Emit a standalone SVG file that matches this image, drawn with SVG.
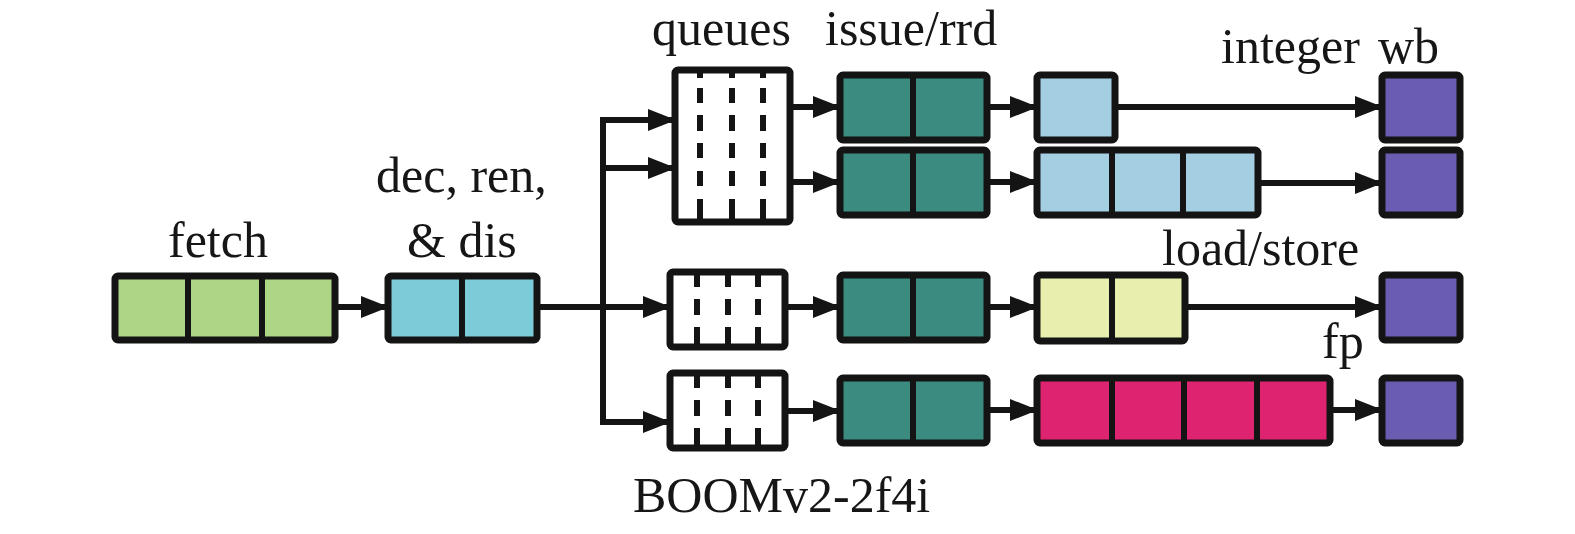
<svg xmlns="http://www.w3.org/2000/svg" width="1575" height="534" viewBox="0 0 1575 534">
<style>
.box{stroke:#141414;stroke-width:7;stroke-linejoin:round}
.div{stroke:#141414;stroke-width:6}
.q{fill:#ffffff;stroke:#141414;stroke-width:7;stroke-linejoin:round}
.dash{stroke:#141414;stroke-width:6;fill:none}
.c{stroke:#141414;stroke-width:6;fill:none}
.lbl{font-family:"Liberation Serif","Times New Roman",serif;font-size:50px;fill:#161616}
.green{fill:#acd686}.cyan{fill:#7ccbd8}.teal{fill:#3b8b80}.lblue{fill:#a4cfe2}.yel{fill:#e8eead}.mag{fill:#de2470}.pur{fill:#6a5cb0}
</style>
<defs>
<marker id="ah" viewBox="0 0 28 22" refX="27" refY="11" markerWidth="28" markerHeight="22" markerUnits="userSpaceOnUse" orient="auto">
<path d="M0,0 L28,11 L0,22 Z" fill="#141414"/>
</marker>
</defs>

<g id="labels">
<text class="lbl" x="168" y="257">fetch</text>
<text class="lbl" x="376" y="192" font-size="48">dec, ren,</text>
<text class="lbl" x="407" y="257">&amp; dis</text>
<text class="lbl" x="652" y="45">queues</text>
<text class="lbl" x="825" y="45">issue/rrd</text>
<text class="lbl" x="1221" y="63">integer</text>
<text class="lbl" x="1378" y="63">wb</text>
<text class="lbl" x="1162" y="265">load/store</text>
<text class="lbl" x="1322" y="358">fp</text>
<text class="lbl" x="633" y="512">BOOMv2-2f4i</text>
</g>

<g id="connectors">
<line class="c" x1="337" y1="307" x2="388" y2="307" marker-end="url(#ah)"/>
<line class="c" x1="537" y1="307" x2="670" y2="307" marker-end="url(#ah)"/>
<path class="c" d="M675,120 H603 V422 H670" stroke-linejoin="miter"/>
<line class="c" x1="603" y1="120" x2="675" y2="120" marker-end="url(#ah)"/>
<line class="c" x1="603" y1="168" x2="675" y2="168" marker-end="url(#ah)"/>
<line class="c" x1="603" y1="422" x2="670" y2="422" marker-end="url(#ah)"/>
<line class="c" x1="790" y1="107" x2="840" y2="107" marker-end="url(#ah)"/>
<line class="c" x1="790" y1="182" x2="840" y2="182" marker-end="url(#ah)"/>
<line class="c" x1="785" y1="307" x2="840" y2="307" marker-end="url(#ah)"/>
<line class="c" x1="785" y1="411" x2="840" y2="411" marker-end="url(#ah)"/>
<line class="c" x1="987" y1="107" x2="1037" y2="107" marker-end="url(#ah)"/>
<line class="c" x1="987" y1="182" x2="1037" y2="182" marker-end="url(#ah)"/>
<line class="c" x1="987" y1="307" x2="1037" y2="307" marker-end="url(#ah)"/>
<line class="c" x1="987" y1="410" x2="1037" y2="410" marker-end="url(#ah)"/>
<line class="c" x1="1115" y1="107" x2="1382" y2="107" marker-end="url(#ah)"/>
<line class="c" x1="1258" y1="183" x2="1382" y2="183" marker-end="url(#ah)"/>
<line class="c" x1="1185" y1="307" x2="1382" y2="307" marker-end="url(#ah)"/>
<line class="c" x1="1330" y1="410" x2="1382" y2="410" marker-end="url(#ah)"/>
</g>

<g id="fetch">
<rect class="box green" x="115" y="276" width="220" height="64" rx="3"/>
<line class="div" x1="188" y1="276" x2="188" y2="340"/>
<line class="div" x1="262" y1="276" x2="262" y2="340"/>
</g>

<g id="decode">
<rect class="box cyan" x="388" y="276" width="149" height="64" rx="3"/>
<line class="div" x1="462" y1="276" x2="462" y2="340"/>
</g>

<g id="queue-int">
<rect class="q" x="675" y="70" width="115" height="152" rx="3"/>
<path class="dash" d="M700,70 V78 M700,88 V103 M700,115 V131 M700,143 V158 M700,171 V186 M700,199 V222 M732,70 V78 M732,88 V103 M732,115 V131 M732,143 V158 M732,171 V186 M732,199 V222 M763,70 V78 M763,88 V103 M763,115 V131 M763,143 V158 M763,171 V186 M763,199 V222"/>
</g>

<g id="queue-mem">
<rect class="q" x="670" y="272" width="115" height="75" rx="3"/>
<path class="dash" d="M697,272 V287 M697,299 V315 M697,327 V347 M728,272 V287 M728,299 V315 M728,327 V347 M758,272 V287 M758,299 V315 M758,327 V347"/>
</g>

<g id="queue-fp">
<rect class="q" x="670" y="373" width="115" height="75" rx="3"/>
<path class="dash" d="M697,373 V388 M697,400 V416 M697,428 V448 M728,373 V388 M728,400 V416 M728,428 V448 M758,373 V388 M758,400 V416 M758,428 V448"/>
</g>

<g id="issue-1">
<rect class="box teal" x="840" y="75" width="147" height="65" rx="3"/>
<line class="div" x1="913" y1="75" x2="913" y2="140"/>
</g>
<g id="issue-2">
<rect class="box teal" x="840" y="150" width="147" height="65" rx="3"/>
<line class="div" x1="913" y1="150" x2="913" y2="215"/>
</g>
<g id="issue-3">
<rect class="box teal" x="840" y="275" width="147" height="65" rx="3"/>
<line class="div" x1="913" y1="275" x2="913" y2="340"/>
</g>
<g id="issue-4">
<rect class="box teal" x="840" y="378" width="147" height="65" rx="3"/>
<line class="div" x1="913" y1="378" x2="913" y2="443"/>
</g>

<g id="int-1">
<rect class="box lblue" x="1037" y="75" width="78" height="65" rx="3"/>
</g>
<g id="int-2">
<rect class="box lblue" x="1037" y="150" width="221" height="65" rx="3"/>
<line class="div" x1="1112" y1="150" x2="1112" y2="215"/>
<line class="div" x1="1183" y1="150" x2="1183" y2="215"/>
</g>
<g id="ldst">
<rect class="box yel" x="1037" y="275" width="148" height="66" rx="3"/>
<line class="div" x1="1112" y1="275" x2="1112" y2="341"/>
</g>
<g id="fpu">
<rect class="box mag" x="1037" y="378" width="293" height="65" rx="3"/>
<line class="div" x1="1112" y1="378" x2="1112" y2="443"/>
<line class="div" x1="1184" y1="378" x2="1184" y2="443"/>
<line class="div" x1="1257" y1="378" x2="1257" y2="443"/>
</g>

<g id="wb-1"><rect class="box pur" x="1382" y="75" width="78" height="65" rx="3"/></g>
<g id="wb-2"><rect class="box pur" x="1382" y="150" width="78" height="65" rx="3"/></g>
<g id="wb-3"><rect class="box pur" x="1382" y="275" width="78" height="65" rx="3"/></g>
<g id="wb-4"><rect class="box pur" x="1382" y="378" width="78" height="65" rx="3"/></g>
</svg>
